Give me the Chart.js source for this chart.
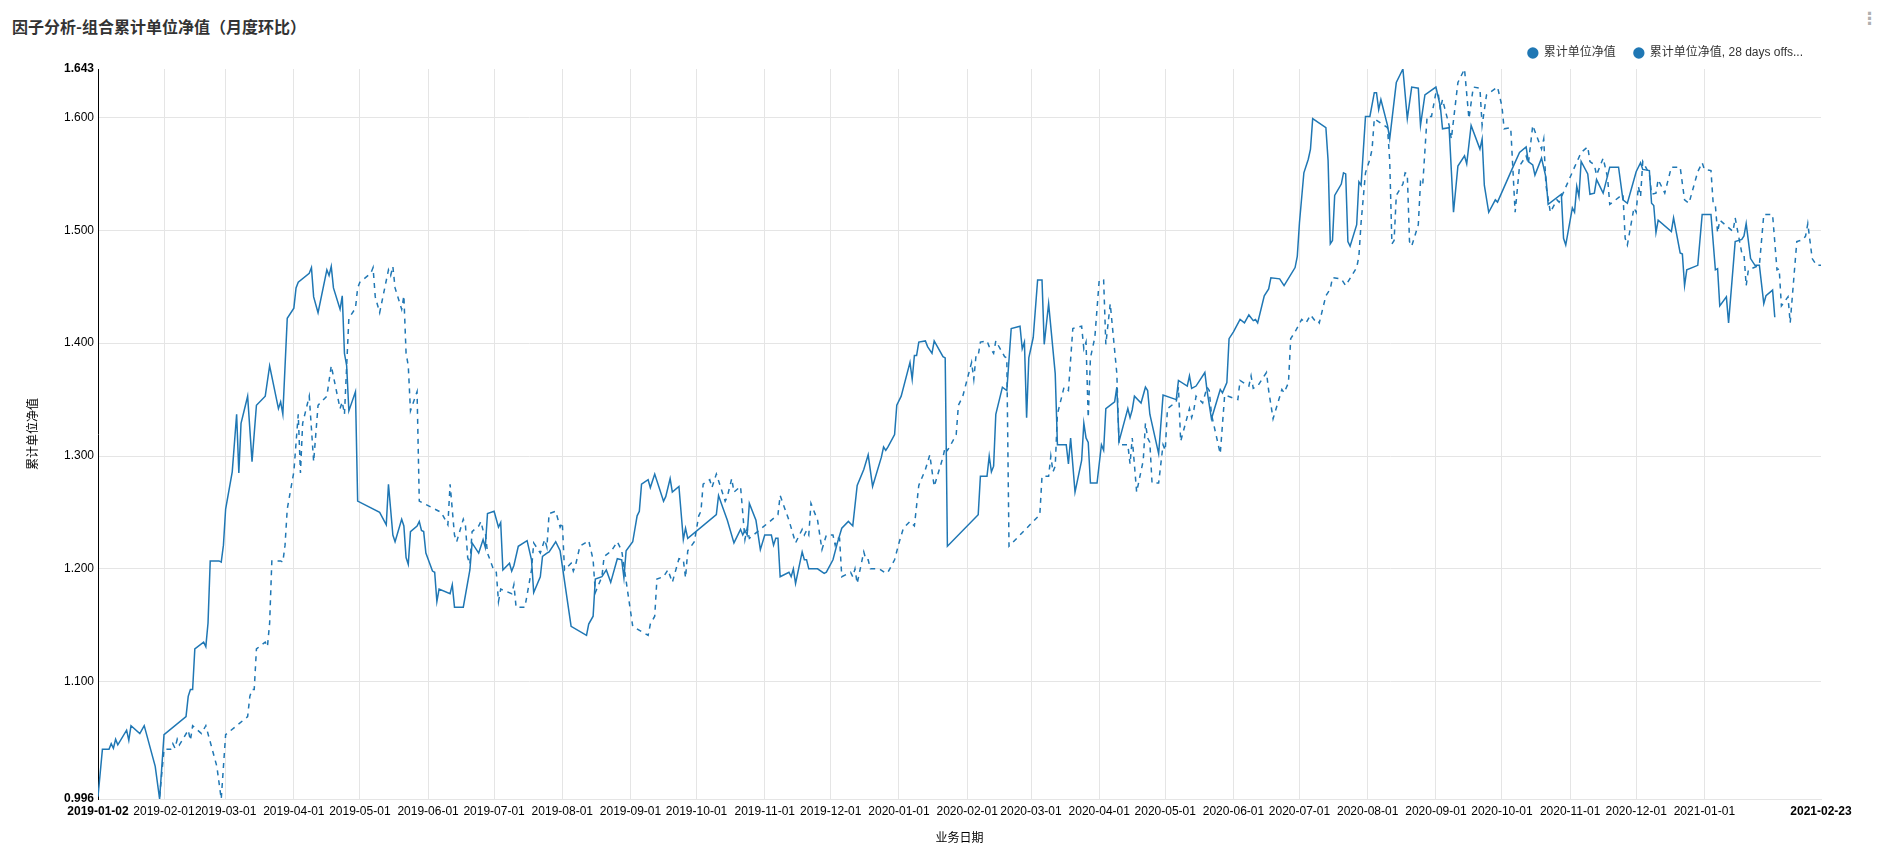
<!DOCTYPE html>
<html>
<head>
<meta charset="utf-8">
<script src="https://cdn.jsdelivr.net/npm/chart.js@4.4.1/dist/chart.umd.min.js"></script>
<style>
  html, body { margin: 0; padding: 0; background: #fff; width: 1893px; height: 862px; overflow: hidden; }
  #title { position: absolute; left: 12px; top: 15px; line-height: 22px; font-family: "Noto Sans CJK SC", sans-serif; font-weight: bold; font-size: 16px; color: #333; }
  #menu { position: absolute; left: 1861px; top: 8px; font-family: "DejaVu Sans", sans-serif; font-size: 17px; font-weight: bold; color: #b0b0b0; }
  #wrap { position: absolute; left: 0; top: 0; width: 1893px; height: 862px; }
</style>
</head>
<body>
<div id="title">因子分析-组合累计单位净值（月度环比）</div>
<div id="menu">⋮</div>
<div id="wrap"><canvas id="chart" width="1893" height="862"></canvas></div>
<script>
// ---------------- data ----------------
const seriesName = '累计单位净值';
const offsetName = '累计单位净值, 28 days offset';
const legendLabels = ['累计单位净值', '累计单位净值, 28 days offs...'];
const offsetDays = 28;
const startDate = '2019-01-02';
const endDate = '2021-02-23';
const xTitle = '业务日期';
const yTitle = '累计单位净值';

const xTickLabels = ['2019-01-02', '2019-02-01', '2019-03-01', '2019-04-01', '2019-05-01', '2019-06-01',
  '2019-07-01', '2019-08-01', '2019-09-01', '2019-10-01', '2019-11-01', '2019-12-01', '2020-01-01',
  '2020-02-01', '2020-03-01', '2020-04-01', '2020-05-01', '2020-06-01', '2020-07-01', '2020-08-01',
  '2020-09-01', '2020-10-01', '2020-11-01', '2020-12-01', '2021-01-01', '2021-02-23'];
const yTickValues = [0.996, 1.1, 1.2, 1.3, 1.4, 1.5, 1.6, 1.643];

const dates = [
  '2019-01-02','2019-01-04','2019-01-07','2019-01-08','2019-01-09','2019-01-10','2019-01-11','2019-01-15','2019-01-16','2019-01-17',
  '2019-01-21','2019-01-23','2019-01-28','2019-01-30','2019-02-01','2019-02-11','2019-02-12','2019-02-13','2019-02-14','2019-02-15',
  '2019-02-19','2019-02-20','2019-02-21','2019-02-22','2019-02-26','2019-02-27','2019-02-28','2019-03-01','2019-03-04','2019-03-06',
  '2019-03-07','2019-03-08','2019-03-11','2019-03-13','2019-03-15','2019-03-19','2019-03-21','2019-03-25','2019-03-26','2019-03-27',
  '2019-03-29','2019-04-01','2019-04-02','2019-04-03','2019-04-08','2019-04-09','2019-04-10','2019-04-12','2019-04-16','2019-04-17',
  '2019-04-18','2019-04-19','2019-04-22','2019-04-23','2019-04-24','2019-04-25','2019-04-26','2019-04-29','2019-04-30','2019-05-10',
  '2019-05-13','2019-05-14','2019-05-16','2019-05-17','2019-05-20','2019-05-21','2019-05-22','2019-05-23','2019-05-24','2019-05-27',
  '2019-05-28','2019-05-29','2019-05-30','2019-05-31','2019-06-03','2019-06-04','2019-06-05','2019-06-06','2019-06-11','2019-06-12',
  '2019-06-13','2019-06-17','2019-06-20','2019-06-21','2019-06-24','2019-06-26','2019-06-27','2019-06-28','2019-07-01','2019-07-03',
  '2019-07-04','2019-07-05','2019-07-08','2019-07-09','2019-07-10','2019-07-12','2019-07-16','2019-07-18','2019-07-19','2019-07-22',
  '2019-07-23','2019-07-25','2019-07-26','2019-07-29','2019-07-31','2019-08-05','2019-08-12','2019-08-13','2019-08-15','2019-08-16',
  '2019-08-19','2019-08-21','2019-08-23','2019-08-26','2019-08-28','2019-08-29','2019-08-30','2019-09-02','2019-09-04','2019-09-05',
  '2019-09-06','2019-09-09','2019-09-10','2019-09-12','2019-09-16','2019-09-17','2019-09-19','2019-09-20','2019-09-23','2019-09-25',
  '2019-09-26','2019-09-27','2019-10-10','2019-10-11','2019-10-13','2019-10-15','2019-10-18','2019-10-21','2019-10-22','2019-10-23',
  '2019-10-24','2019-10-25','2019-10-28','2019-10-30','2019-11-01','2019-11-04','2019-11-05','2019-11-06','2019-11-07','2019-11-08',
  '2019-11-12','2019-11-13','2019-11-14','2019-11-15','2019-11-18','2019-11-19','2019-11-20','2019-11-21','2019-11-25','2019-11-28',
  '2019-11-29','2019-12-02','2019-12-04','2019-12-06','2019-12-09','2019-12-11','2019-12-13','2019-12-16','2019-12-18','2019-12-20',
  '2019-12-24','2019-12-25','2019-12-26','2019-12-27','2019-12-30','2019-12-31','2020-01-02','2020-01-06','2020-01-07','2020-01-08',
  '2020-01-09','2020-01-10','2020-01-13','2020-01-14','2020-01-16','2020-01-17','2020-01-21','2020-01-22','2020-01-23','2020-02-06',
  '2020-02-07','2020-02-10','2020-02-11','2020-02-12','2020-02-13','2020-02-14','2020-02-17','2020-02-19','2020-02-21','2020-02-25',
  '2020-02-26','2020-02-27','2020-02-28','2020-02-29','2020-03-02','2020-03-04','2020-03-06','2020-03-07','2020-03-09','2020-03-12',
  '2020-03-13','2020-03-17','2020-03-18','2020-03-19','2020-03-21','2020-03-24','2020-03-25','2020-03-26','2020-03-27','2020-03-28',
  '2020-03-31','2020-04-02','2020-04-03','2020-04-04','2020-04-08','2020-04-09','2020-04-10','2020-04-14','2020-04-15','2020-04-16',
  '2020-04-17','2020-04-20','2020-04-22','2020-04-23','2020-04-24','2020-04-28','2020-04-30','2020-05-06','2020-05-07','2020-05-11',
  '2020-05-12','2020-05-13','2020-05-15','2020-05-19','2020-05-20','2020-05-22','2020-05-26','2020-05-27','2020-05-29','2020-05-30',
  '2020-06-01','2020-06-04','2020-06-06','2020-06-08','2020-06-10','2020-06-11','2020-06-12','2020-06-15','2020-06-17','2020-06-18',
  '2020-06-22','2020-06-24','2020-06-29','2020-06-30','2020-07-01','2020-07-03','2020-07-05','2020-07-06','2020-07-07','2020-07-13',
  '2020-07-14','2020-07-15','2020-07-16','2020-07-17','2020-07-20','2020-07-21','2020-07-22','2020-07-23','2020-07-24','2020-07-27',
  '2020-07-28','2020-07-29','2020-07-31','2020-08-02','2020-08-04','2020-08-05','2020-08-06','2020-08-07','2020-08-10','2020-08-11',
  '2020-08-14','2020-08-17','2020-08-19','2020-08-21','2020-08-24','2020-08-25','2020-08-27','2020-09-01','2020-09-03','2020-09-04',
  '2020-09-07','2020-09-09','2020-09-11','2020-09-14','2020-09-15','2020-09-17','2020-09-21','2020-09-22','2020-09-23','2020-09-25',
  '2020-09-28','2020-09-29','2020-10-06','2020-10-09','2020-10-12','2020-10-13','2020-10-15','2020-10-16','2020-10-19','2020-10-21',
  '2020-10-22','2020-10-28','2020-10-29','2020-10-30','2020-11-02','2020-11-03','2020-11-04','2020-11-05','2020-11-06','2020-11-09',
  '2020-11-10','2020-11-12','2020-11-13','2020-11-16','2020-11-19','2020-11-23','2020-11-25','2020-11-27','2020-12-01','2020-12-03',
  '2020-12-04','2020-12-07','2020-12-08','2020-12-09','2020-12-10','2020-12-11','2020-12-17','2020-12-18','2020-12-21','2020-12-22',
  '2020-12-23','2020-12-24','2020-12-29','2020-12-31','2021-01-04','2021-01-06','2021-01-07','2021-01-08','2021-01-11','2021-01-12',
  '2021-01-15','2021-01-18','2021-01-19','2021-01-20','2021-01-22','2021-01-24','2021-01-26','2021-01-28','2021-01-29','2021-02-01',
  '2021-02-02'
];
const values = [
  0.998,1.040,1.040,1.045,1.041,1.049,1.044,1.057,1.048,1.061,
  1.054,1.061,1.025,0.996,1.053,1.069,1.087,1.093,1.093,1.129,
  1.135,1.131,1.152,1.207,1.207,1.206,1.221,1.253,1.286,1.337,
  1.285,1.329,1.353,1.295,1.345,1.353,1.380,1.342,1.348,1.337,
  1.422,1.431,1.449,1.454,1.462,1.467,1.441,1.427,1.465,1.460,
  1.468,1.449,1.430,1.442,1.391,1.380,1.340,1.357,1.260,1.250,
  1.239,1.275,1.230,1.224,1.244,1.238,1.210,1.204,1.233,1.238,
  1.242,1.234,1.233,1.214,1.198,1.197,1.171,1.182,1.178,1.186,
  1.166,1.166,1.199,1.223,1.214,1.226,1.219,1.249,1.251,1.237,
  1.241,1.199,1.205,1.198,1.203,1.220,1.225,1.208,1.179,1.193,
  1.211,1.214,1.215,1.224,1.216,1.149,1.141,1.151,1.158,1.191,
  1.193,1.199,1.188,1.209,1.208,1.192,1.216,1.224,1.247,1.251,
  1.275,1.279,1.272,1.284,1.260,1.264,1.280,1.268,1.273,1.226,
  1.236,1.227,1.248,1.265,1.254,1.243,1.223,1.235,1.230,1.234,
  1.230,1.258,1.243,1.217,1.230,1.230,1.221,1.227,1.227,1.193,
  1.197,1.193,1.200,1.187,1.215,1.208,1.208,1.200,1.200,1.196,
  1.197,1.208,1.223,1.236,1.242,1.238,1.274,1.288,1.301,1.273,
  1.299,1.308,1.305,1.308,1.319,1.345,1.353,1.383,1.368,1.389,
  1.389,1.401,1.402,1.397,1.391,1.402,1.388,1.387,1.220,1.248,
  1.282,1.282,1.300,1.286,1.291,1.337,1.361,1.358,1.413,1.415,
  1.395,1.401,1.334,1.387,1.405,1.456,1.456,1.399,1.435,1.373,
  1.310,1.310,1.293,1.316,1.268,1.296,1.329,1.316,1.312,1.276,
  1.276,1.310,1.305,1.342,1.348,1.361,1.313,1.342,1.334,1.341,
  1.353,1.347,1.361,1.358,1.337,1.302,1.354,1.350,1.367,1.362,
  1.371,1.360,1.362,1.374,1.358,1.333,1.359,1.356,1.365,1.404,
  1.410,1.421,1.418,1.425,1.420,1.421,1.418,1.442,1.448,1.458,
  1.457,1.451,1.467,1.477,1.507,1.551,1.563,1.572,1.599,1.591,
  1.562,1.488,1.491,1.531,1.541,1.551,1.550,1.490,1.486,1.505,
  1.543,1.540,1.601,1.601,1.622,1.622,1.607,1.616,1.593,1.581,
  1.631,1.643,1.599,1.627,1.626,1.593,1.620,1.627,1.610,1.590,
  1.591,1.516,1.557,1.566,1.559,1.593,1.572,1.581,1.540,1.516,
  1.527,1.525,1.556,1.569,1.574,1.561,1.558,1.549,1.564,1.547,
  1.523,1.532,1.493,1.487,1.520,1.516,1.539,1.530,1.561,1.550,
  1.532,1.533,1.545,1.533,1.556,1.556,1.527,1.524,1.552,1.560,
  1.554,1.553,1.524,1.522,1.498,1.509,1.499,1.511,1.480,1.479,
  1.451,1.465,1.469,1.514,1.514,1.465,1.466,1.433,1.441,1.418,
  1.490,1.492,1.495,1.506,1.475,1.469,1.469,1.435,1.442,1.447,
  1.423
];

// ---------------- build ----------------
const DAY_MS = 86400000;
const toDay = s => (Date.parse(s + 'T00:00:00Z') - Date.parse(startDate + 'T00:00:00Z')) / DAY_MS;
const endDay = toDay(endDate);
const mainPoints = dates.map((d, i) => ({ x: toDay(d), y: values[i] }));
const offsetPoints = dates.map((d, i) => ({ x: toDay(d) + offsetDays, y: values[i] })).filter(p => p.x <= endDay);

const FONT = '"Liberation Sans", Arial, "Noto Sans CJK SC", sans-serif';
const LINE = '#1f77b4';
const GRID = '#e5e5e5';
const lastX = xTickLabels.length - 1;
const lastY = yTickValues.length - 1;

new Chart(document.getElementById('chart'), {
  type: 'line',
  data: {
    datasets: [
      { label: seriesName, data: mainPoints, borderColor: LINE, backgroundColor: LINE, borderWidth: 1.5,
        pointRadius: 0, pointHoverRadius: 0, tension: 0, fill: false },
      { label: offsetName, data: offsetPoints, borderColor: LINE, backgroundColor: LINE, borderWidth: 1.5,
        borderDash: [5, 5], pointRadius: 0, pointHoverRadius: 0, tension: 0, fill: false }
    ]
  },
  options: {
    responsive: false,
    animation: false,
    devicePixelRatio: 1,
    layout: { padding: { top: 29, left: 10, right: 72, bottom: 0 } },
    plugins: {
      tooltip: { enabled: false },
      legend: {
        position: 'top',
        align: 'end',
        labels: {
          usePointStyle: true,
          boxWidth: 10,
          boxHeight: 8,
          padding: 18,
          color: '#333',
          font: { size: 12, family: FONT },
          generateLabels: chart => chart.data.datasets.map((ds, i) => ({
            text: legendLabels[i], fillStyle: LINE, strokeStyle: LINE, lineWidth: 0,
            pointStyle: 'circle', hidden: false, datasetIndex: i, lineDash: [], fontColor: '#333'
          }))
        }
      }
    },
    scales: {
      x: {
        type: 'linear',
        min: 0,
        max: endDay,
        afterBuildTicks: s => { s.ticks = xTickLabels.map(l => ({ value: toDay(l) })); },
        afterFit: s => { s.height = 63; },
        ticks: {
          autoSkip: false, maxRotation: 0, minRotation: 0, padding: 5, color: '#000',
          font: c => ({ size: 12, family: FONT, weight: (c.index === 0 || c.index === lastX) ? 'bold' : 'normal' }),
          callback: (v, i) => xTickLabels[i]
        },
        grid: { drawTicks: false, lineWidth: 1,
          color: c => (c.index === 0 || c.index === lastX) ? 'rgba(0,0,0,0)' : GRID },
        border: { display: true, color: GRID, width: 1 },
        title: { display: true, text: xTitle, color: '#000', font: { size: 12, family: FONT }, padding: { top: 0, bottom: 16 } }
      },
      y: {
        type: 'linear',
        min: yTickValues[0],
        max: yTickValues[lastY],
        afterBuildTicks: s => { s.ticks = yTickValues.map(v => ({ value: v })); },
        afterFit: s => { s.width = 88; },
        ticks: {
          padding: 4, color: '#000',
          font: c => ({ size: 12, family: FONT, weight: (c.index === 0 || c.index === lastY) ? 'bold' : 'normal' }),
          callback: v => Number(v).toFixed(3)
        },
        grid: { drawTicks: false, lineWidth: 1,
          color: c => (c.index === 0 || c.index === lastY) ? 'rgba(0,0,0,0)' : GRID },
        border: { display: true, color: '#000', width: 1 },
        title: { display: true, text: yTitle, color: '#000', font: { size: 12, family: FONT }, padding: { top: 16, bottom: 0 } }
      }
    }
  }
});
</script>
</body>
</html>
